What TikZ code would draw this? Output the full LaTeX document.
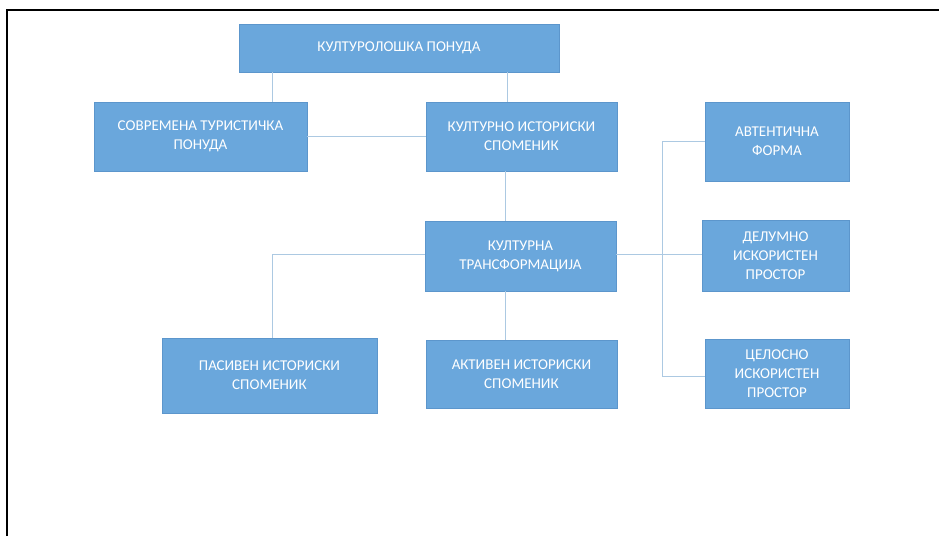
\documentclass[tikz,border=0pt]{standalone}
\usepackage{fontspec}
\setmainfont{Carlito}
\definecolor{boxfill}{RGB}{106,167,220}
\definecolor{boxedge}{RGB}{92,150,204}
\definecolor{linkcol}{RGB}{172,201,226}
\begin{document}
\begin{tikzpicture}[x=1pt,y=-1pt,
  box/.style={draw=boxedge, line width=0.8pt, fill=boxfill, text=white, align=center,
    font=\fontsize{15}{19}\selectfont, inner sep=2pt},
  link/.style={draw=linkcol, line width=1pt}]
\useasboundingbox (0,0) rectangle (939,536);
% frame
\draw[black, line width=2pt] (7,536) -- (7,10) -- (939,10);
% boxes
\node[box, minimum width=320pt, minimum height=48pt] (top) at (399,48) {КУЛТУРОЛОШКА ПОНУДА};
\node[box, minimum width=213pt, minimum height=69pt] (sov) at (200.5,136.5) {СОВРЕМЕНА ТУРИСТИЧКА\\ПОНУДА};
\node[box, minimum width=191pt, minimum height=69pt] (kis) at (521.5,136.5) {КУЛТУРНО ИСТОРИСКИ\\СПОМЕНИК};
\node[box, minimum width=191pt, minimum height=70pt] (kt) at (520.5,256) {КУЛТУРНА\\ТРАНСФОРМАЦИЈА};
\node[box, minimum width=215pt, minimum height=75pt] (pas) at (269.5,375.5) {ПАСИВЕН ИСТОРИСКИ\\СПОМЕНИК};
\node[box, minimum width=191pt, minimum height=68pt] (akt) at (521.5,374) {АКТИВЕН ИСТОРИСКИ\\СПОМЕНИК};
\node[box, minimum width=144pt, minimum height=79pt] (avt) at (777,141.5) {АВТЕНТИЧНА\\ФОРМА};
\node[box, minimum width=147pt, minimum height=71pt] (del) at (775.5,255.5) {ДЕЛУМНО\\ИСКОРИСТЕН\\ПРОСТОР};
\node[box, minimum width=144pt, minimum height=69pt] (cel) at (777,373.5) {ЦЕЛОСНО\\ИСКОРИСТЕН\\ПРОСТОР};
% connectors
\draw[link] (top.south -| 272,0) -- (sov.north -| 272,0);
\draw[link] (top.south -| 507,0) -- (kis.north -| 507,0);
\draw[link] (sov.east) -- (kis.west);
\draw[link] (kis.south -| 505,0) -- (kt.north -| 505,0);
\draw[link] (kt.west |- 0,254) -- (272,254) -- (pas.north -| 272,0);
\draw[link] (kt.south -| 505,0) -- (akt.north -| 505,0);
\draw[link] (kt.east |- 0,254) -- (del.west |- 0,254);
\draw[link] (avt.west |- 0,141) -- (662,141) -- (662,376) -- (cel.west |- 0,376);
\end{tikzpicture}
\end{document}
